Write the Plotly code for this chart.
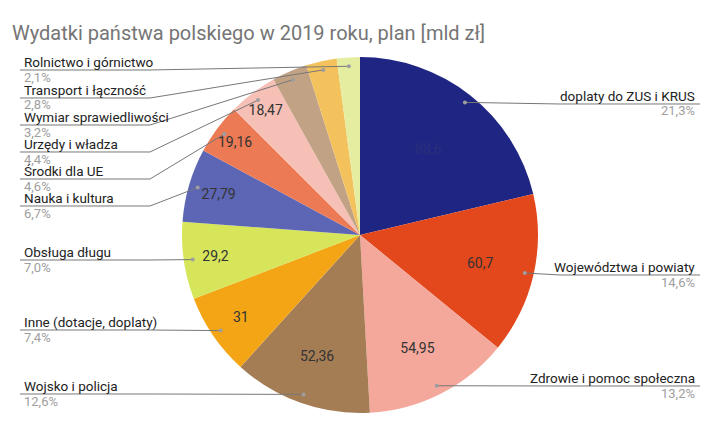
import math
import plotly.graph_objects as go

labels = ["doplaty do ZUS i KRUS", "Województwa i powiaty", "Zdrowie i pomoc społeczna",
          "Wojsko i policja", "Inne (dotacje, doplaty)", "Obsługa długu", "Nauka i kultura",
          "Środki dla UE", "Urzędy i władza", "Wymiar sprawiedliwości", "Transport i łączność",
          "Rolnictwo i górnictwo"]
values = [88.6, 60.7, 54.95, 52.36, 31, 29.2, 27.79, 19.16, 18.47, 13.3, 11.6, 8.7]
percents = ["21,3%", "14,6%", "13,2%", "12,6%", "7,4%", "7,0%", "6,7%", "4,6%", "4,4%", "3,2%", "2,8%", "2,1%"]
colors = ["#1f2582", "#e2481c", "#f4a89c", "#a57d55", "#f3a516", "#d6e55a", "#5c66b4",
          "#ec7a55", "#f6c0b6", "#c2a285", "#f4c25c", "#e4eda0"]
shown = [True] * 9 + [False] * 3
# label name y (px) and side
label_y = [96, 267, 378, 386, 322, 252, 198, 171, 144, 117, 90, 62]
side = ["r", "r", "r", "l", "l", "l", "l", "l", "l", "l", "l", "l"]

W, H = 721, 436
OFF = 8  # page margin offset
cx, cy, R = 360, 235, 178

def fmt(v):
    return ("%g" % v).replace(".", ",")

def px(x):
    return (x - OFF) / W

def py(y):
    return 1 - (y - OFF) / H

texts = [fmt(v) if s else "" for v, s in zip(values, shown)]
tcolors = ["#2a2f7a"] + ["#333333"] * 11

fig = go.Figure(go.Pie(
    labels=labels, values=values, sort=False, direction="clockwise",
    marker=dict(colors=colors, line=dict(width=0)),
    text=texts, textinfo="text", textposition="inside",
    insidetextorientation="horizontal",
    textfont=dict(size=14, color=tcolors, family="Roboto"),
    domain=dict(x=[px(cx - R), px(cx + R)], y=[py(cy + R), py(cy - R)]),
    showlegend=False, hoverinfo="label+value+percent",
))

shapes = []
annotations = []
total = sum(values)
acc = 0
for i, v in enumerate(values):
    mid = (acc + v / 2) / total * 2 * math.pi
    acc += v
    dx = cx + 0.95 * R * math.sin(mid)
    dy = cy - 0.95 * R * math.cos(mid)
    ly = label_y[i] + 8
    if side[i] == "l":
        xs, xb, anchor, tx = 20, 150, "left", 22
    else:
        xs, xb, anchor, tx = 700, 560, "right", 697
    shapes.append(dict(type="path", xref="paper", yref="paper",
                       path="M %f %f L %f %f L %f %f" % (px(xs), py(ly), px(xb), py(ly), px(dx), py(dy)),
                       line=dict(color="#777777", width=1)))
    shapes.append(dict(type="circle", xref="paper", yref="paper",
                       x0=px(dx - 2), x1=px(dx + 2), y0=py(dy + 2), y1=py(dy - 2),
                       fillcolor="#9e9e9e", line=dict(width=0)))
    annotations.append(dict(x=px(tx), y=py(label_y[i]), xref="paper", yref="paper",
                            text=labels[i], showarrow=False, xanchor=anchor, yanchor="middle",
                            font=dict(size=13.5, color="#222222", family="Roboto")))
    annotations.append(dict(x=px(tx), y=py(label_y[i] + 15), xref="paper", yref="paper",
                            text=percents[i], showarrow=False, xanchor=anchor, yanchor="middle",
                            font=dict(size=13, color="#9e9e9e", family="Roboto")))

annotations.append(dict(x=px(10), y=py(33), xref="paper", yref="paper",
                        text="Wydatki państwa polskiego w 2019 roku, plan [mld zł]",
                        showarrow=False, xanchor="left", yanchor="middle",
                        font=dict(size=20, color="#757575", family="Roboto")))

fig.update_layout(width=W, height=H, margin=dict(l=0, r=0, t=0, b=0),
                  paper_bgcolor="white", plot_bgcolor="white",
                  shapes=shapes, annotations=annotations)
fig.write_html("out.html")
